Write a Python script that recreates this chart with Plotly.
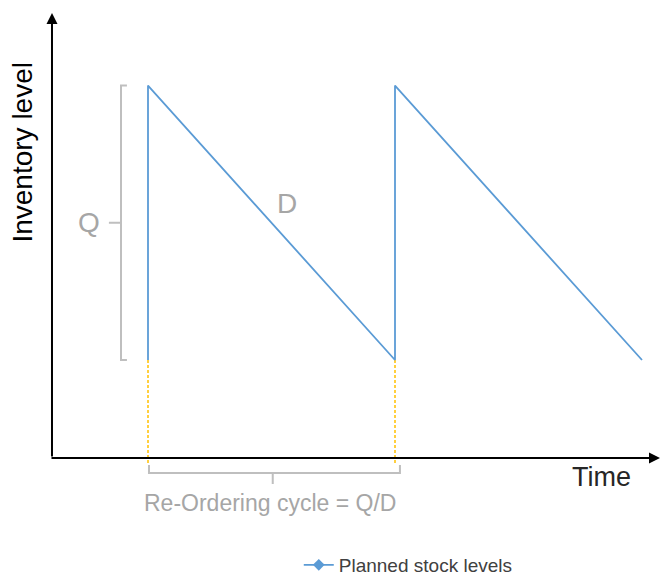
import plotly.graph_objects as go

# ---- data ----
time_points = [1, 1, 2, 2, 3]            # cycle time units
stock_levels = [1.0, 3.8, 1.0, 3.8, 1.0]  # planned inventory level
reorder_times = [1, 2]
low_level = 1.0
high_level = 3.8
series_name = "Planned stock levels"

# ---- layout constants (data coordinates) ----
X_RANGE = [0.40081, 3.07692]
Y_RANGE = [-1.20408, 4.67347]
AXIS_X0 = 0.6113   # where the vertical axis sits
AXIS_XL = 0.6032   # left end of horizontal axis
X_TIP = 3.073
Y_TIP = 4.541

BLUE = "#5B9BD5"
YELLOW = "#FFC000"
GRAY = "#BFBFBF"
GRAY_TXT = "#A6A6A6"
FONT = "Liberation Sans, Arial, sans-serif"

fig = go.Figure()

# yellow dashed drop lines at re-order points
for t in reorder_times:
    fig.add_trace(go.Scatter(
        x=[t, t], y=[low_level, -0.07], mode="lines",
        line=dict(color=YELLOW, width=1.5, dash="3px,2px"),
        showlegend=False, hoverinfo="skip"))

# sawtooth stock line
fig.add_trace(go.Scatter(
    x=time_points, y=stock_levels, mode="lines",
    line=dict(color=BLUE, width=1.8),
    showlegend=False, name=series_name))

# legend-only entry
fig.add_trace(go.Scatter(
    x=[None], y=[None], mode="lines+markers", name=series_name,
    line=dict(color=BLUE, width=1.8),
    marker=dict(symbol="diamond", size=9, color=BLUE)))

# braces
t0, t1 = reorder_times[0], reorder_times[1]
bx = t0 - 0.1093
mid_q = (low_level + high_level) / 2
left_brace = (f"M{bx+0.024},{high_level} L{bx},{high_level} L{bx},{low_level} "
              f"L{bx+0.024},{low_level} M{bx},{mid_q} L{bx-0.049},{mid_q}")
by = -0.153
mid_t = (t0 + t1) / 2 + 0.005
bottom_brace = (f"M{t0+0.004},-0.0714 L{t0+0.004},{by} L{t1+0.02},{by} "
                f"L{t1+0.02},-0.0714 M{mid_t},{by} L{mid_t},-0.265")
for p in (left_brace, bottom_brace):
    fig.add_shape(type="path", path=p, xref="x", yref="y",
                  line=dict(color=GRAY, width=2))

# axes as arrows
fig.add_annotation(x=AXIS_X0, y=Y_TIP, ax=AXIS_X0, ay=0, xref="x", yref="y",
                   axref="x", ayref="y", text="", showarrow=True,
                   arrowhead=2, arrowsize=1.1, arrowwidth=2, arrowcolor="#000000",
                   standoff=0)
fig.add_annotation(x=X_TIP, y=0, ax=AXIS_XL, ay=0, xref="x", yref="y",
                   axref="x", ayref="y", text="", showarrow=True,
                   arrowhead=2, arrowsize=1.1, arrowwidth=2, arrowcolor="#000000",
                   standoff=0)

# texts
fig.add_annotation(x=0.494, y=3.117, text="Inventory level", textangle=-90,
                   showarrow=False, font=dict(family=FONT, size=28, color="#000000"))
fig.add_annotation(x=2.834, y=-0.194, text="Time", showarrow=False,
                   font=dict(family=FONT, size=27, color="#262626"))
fig.add_annotation(x=0.761, y=mid_q, text="Q", showarrow=False,
                   font=dict(family=FONT, size=28, color=GRAY_TXT))
fig.add_annotation(x=1.5628, y=2.602, text="D", showarrow=False,
                   font=dict(family=FONT, size=28, color=GRAY_TXT))
fig.add_annotation(x=1.494, y=-0.459, text="Re-Ordering cycle = Q/D", showarrow=False,
                   font=dict(family=FONT, size=23, color=GRAY_TXT))

fig.update_layout(
    width=661, height=576,
    margin=dict(l=0, r=0, t=0, b=0, autoexpand=False),
    paper_bgcolor="white", plot_bgcolor="white",
    xaxis=dict(range=X_RANGE, visible=False, fixedrange=True),
    yaxis=dict(range=Y_RANGE, visible=False, fixedrange=True),
    showlegend=True,
    legend=dict(orientation="h", x=0.452, xanchor="left", y=0.0191, yanchor="middle",
                bgcolor="rgba(0,0,0,0)", font=dict(family=FONT, size=19, color="#404040")),
)

fig.write_html("out.html", config={"displayModeBar": False},
               post_script="document.body.style.margin='0px';")
